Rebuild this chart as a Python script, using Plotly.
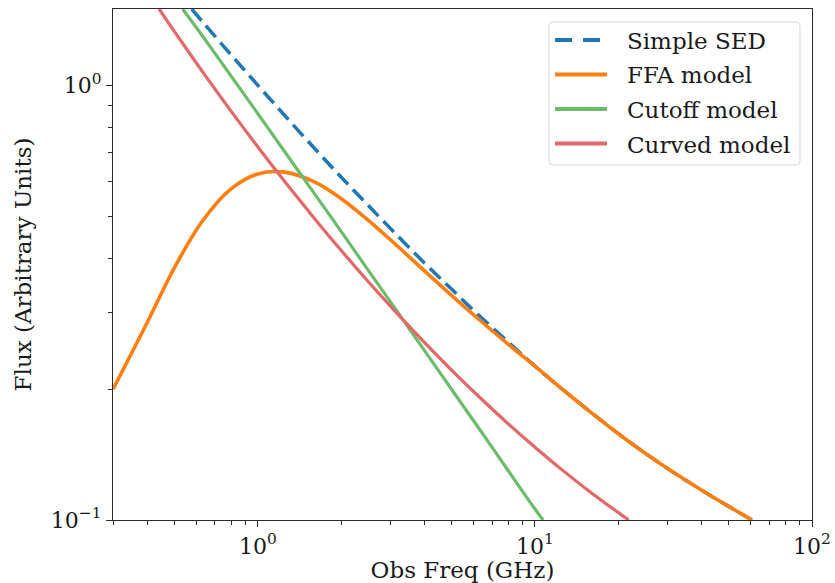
import plotly.graph_objects as go

# Observed frequency (GHz) and flux (arbitrary units) for each spectral model
sed_freq = [0.577, 0.63, 0.8, 1.0, 1.25, 1.6, 2.0, 2.5, 3.15, 4.0, 5.0, 6.3, 8.0,
            10, 12.5, 16, 20, 25, 31.5, 40, 50, 60.7]
sed_flux = [1.50, 1.404, 1.177, 1.001, 0.853, 0.717, 0.615, 0.530, 0.455, 0.390, 0.340, 0.295, 0.257,
            0.226, 0.2005, 0.1765, 0.158, 0.1425, 0.1289, 0.1171, 0.1075, 0.100]

ffa_freq = [0.3, 0.4, 0.5, 0.63, 0.8, 1.0, 1.25, 1.6, 2.0, 2.5, 3.15, 4.0, 5.0, 6.3, 8.0,
            10, 12.5, 16, 20, 25, 31.5, 40, 50, 60.7]
ffa_flux = [0.200, 0.286, 0.381, 0.487, 0.578, 0.626, 0.632, 0.600, 0.549, 0.490, 0.430, 0.374, 0.329,
            0.289, 0.254, 0.226, 0.2005, 0.1765, 0.158, 0.1425, 0.1289, 0.1171, 0.1075, 0.100]

cut_freq = [0.535, 0.63, 0.8, 1.0, 1.25, 1.6, 2.0, 2.5, 3.15, 4.0, 5.0, 6.3, 8.0, 10, 10.7]
cut_flux = [1.50, 1.302, 1.052, 0.861, 0.704, 0.564, 0.461, 0.376, 0.305, 0.245, 0.200, 0.162, 0.130,
            0.106, 0.100]

crv_freq = [0.44, 0.5, 0.63, 0.8, 1.0, 1.25, 1.6, 2.0, 2.5, 3.15, 4.0, 5.0, 6.3, 8.0, 10, 12.5, 16,
            20, 21.8]
crv_flux = [1.50, 1.331, 1.078, 0.873, 0.722, 0.601, 0.4945, 0.417, 0.354, 0.301, 0.256, 0.2214, 0.1919,
            0.1666, 0.1471, 0.1306, 0.1154, 0.1040, 0.100]

series_names = ["Simple SED", "FFA model", "Cutoff model", "Curved model"]
series_colors = ["#1f77b4", "#ff7f0e", "#6bbc6b", "#e26869"]
series_dash = ["15px,7px", "solid", "solid", "solid"]
legend_dash = ["17px,11px", "solid", "solid", "solid"]
series_width = [3.5, 3.6, 3.2, 3.2]

x_ticks = [1, 10, 100]
x_ticklabels = ["10<sup>0</sup>", "10<sup>1</sup>", "10<sup>2</sup>"]
y_ticks = [0.1, 1]
y_ticklabels = ["10<sup>\u22121</sup>", "10<sup>0</sup>"]

x_minor = [0.3, 0.4, 0.5, 0.6, 0.7, 0.8, 0.9, 2, 3, 4, 5, 6, 7, 8, 9,
           20, 30, 40, 50, 60, 70, 80, 90]
y_minor = [0.2, 0.3, 0.4, 0.5, 0.6, 0.7, 0.8, 0.9]

FONT = "DejaVu Serif"
TXT = "#1a1a1a"
W, H = 835, 583
ML, MR, MT, MB = 113, 23, 9, 63
PW, PH = W - ML - MR, H - MT - MB

fig = go.Figure()
all_x = [sed_freq, ffa_freq, cut_freq, crv_freq]
all_y = [sed_flux, ffa_flux, cut_flux, crv_flux]
for xs, ys, name, col, dash, lw in zip(all_x, all_y, series_names, series_colors,
                                       series_dash, series_width):
    fig.add_trace(go.Scatter(x=xs, y=ys, mode="lines", name=name, showlegend=False,
                             line=dict(color=col, width=lw, dash=dash, shape="spline")))

axis_common = dict(
    type="log",
    automargin=False,
    showgrid=False,
    zeroline=False,
    showline=True,
    linecolor="#2b2b2b",
    linewidth=1.3,
    mirror=True,
    ticks="outside",
    ticklen=6,
    tickwidth=1.2,
    tickcolor="#2b2b2b",
    tickfont=dict(family=FONT, size=22, color=TXT),
)

fig.update_xaxes(
    **axis_common,
    range=[-0.5229, 2.0],
    tickvals=x_ticks,
    ticktext=x_ticklabels,
    minor=dict(tickvals=x_minor, ticks="outside", ticklen=3.5, tickwidth=1, tickcolor="#2b2b2b"),
    title=dict(text="Obs Freq (GHz)", font=dict(family=FONT, size=23, color=TXT), standoff=8),
)
fig.update_yaxes(
    **axis_common,
    range=[-1.0, 0.1761],
    tickvals=y_ticks,
    ticktext=y_ticklabels,
    minor=dict(tickvals=y_minor, ticks="outside", ticklen=3.5, tickwidth=1, tickcolor="#2b2b2b"),
    title=dict(text="Flux (Arbitrary Units)", font=dict(family=FONT, size=23, color=TXT), standoff=12),
)


# Legend box drawn in paper coordinates (pixel positions converted)
def px(xp):
    return (xp - ML) / PW


def py(yp):
    return (H - MB - yp) / PH


bx0, bx1, by0, by1, r = 549, 800, 22, 165, 4
box_path = (
    f"M {px(bx0 + r)},{py(by0)} L {px(bx1 - r)},{py(by0)} "
    f"Q {px(bx1)},{py(by0)} {px(bx1)},{py(by0 + r)} "
    f"L {px(bx1)},{py(by1 - r)} Q {px(bx1)},{py(by1)} {px(bx1 - r)},{py(by1)} "
    f"L {px(bx0 + r)},{py(by1)} Q {px(bx0)},{py(by1)} {px(bx0)},{py(by1 - r)} "
    f"L {px(bx0)},{py(by0 + r)} Q {px(bx0)},{py(by0)} {px(bx0 + r)},{py(by0)} Z"
)
shapes = [dict(type="path", xref="paper", yref="paper", path=box_path,
               line=dict(color="#d6d6d6", width=1), fillcolor="rgba(255,255,255,0.85)")]
annotations = []
row_y = [40, 74.5, 109, 143.5]
for yy, name, col, dash in zip(row_y, series_names, series_colors, legend_dash):
    shapes.append(dict(type="line", xref="paper", yref="paper",
                       x0=px(555), x1=px(607), y0=py(yy), y1=py(yy),
                       line=dict(color=col, width=4, dash=dash)))
    annotations.append(dict(xref="paper", yref="paper", x=px(625), y=py(yy + 1),
                            xanchor="left", yanchor="middle", showarrow=False, text=name,
                            font=dict(family=FONT, size=23, color=TXT)))

fig.update_layout(
    width=W,
    height=H,
    margin=dict(l=ML, r=MR, t=MT, b=MB),
    paper_bgcolor="white",
    plot_bgcolor="white",
    showlegend=False,
    shapes=shapes,
    annotations=annotations,
)

fig.write_html("out.html")
